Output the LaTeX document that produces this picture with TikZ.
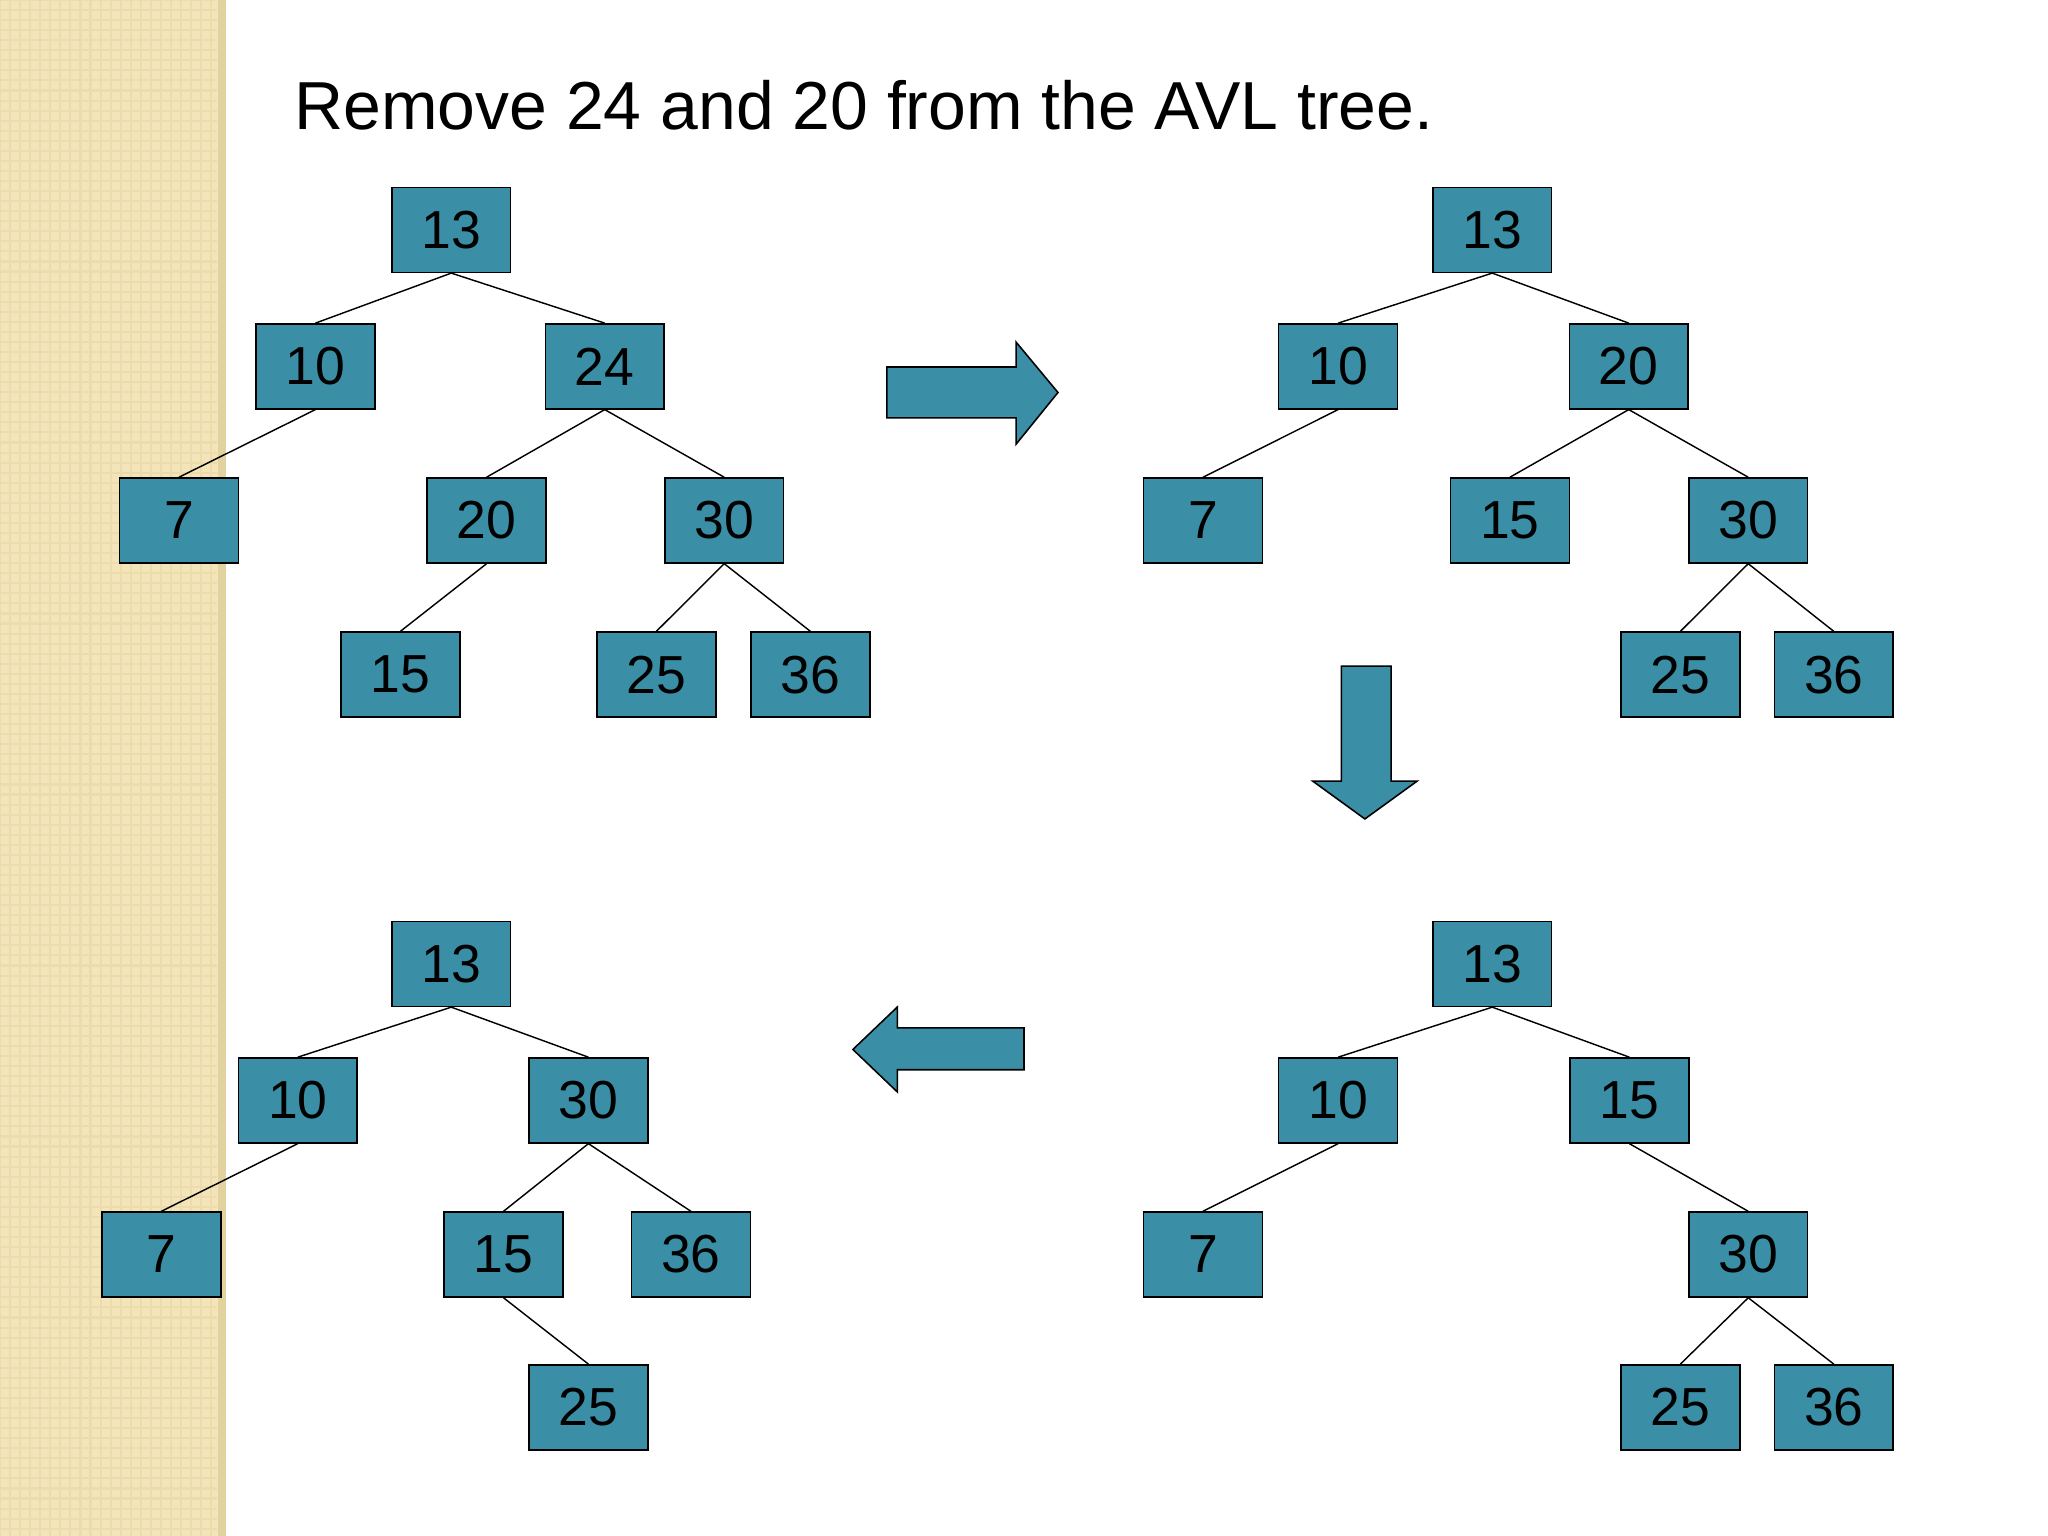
\documentclass[tikz,border=0pt]{standalone}
\usepackage{fontspec}
\setmainfont{Liberation Sans}
\definecolor{boxteal}{RGB}{58,143,166}
\definecolor{stripbase}{RGB}{243,228,186}
\definecolor{stripline}{RGB}{236,220,172}
\definecolor{stripedge}{RGB}{226,210,160}
\tikzset{
  nb/.style={draw=black, line width=0.6pt, fill=boxteal, minimum width=45.5pt, minimum height=32.5pt, inner sep=0pt, font=\fontsize{20.5}{24}\selectfont},
  edge/.style={draw=black, line width=0.55pt},
  bigarrow/.style={draw=black, line width=0.6pt, fill=boxteal, line join=miter}
}
\begin{document}
\begin{tikzpicture}[x=0.5pt,y=-0.5pt]
\useasboundingbox (0,0) rectangle (1568,1176);
\fill[white] (0,0) rectangle (1568,1176);
% left strip
\fill[stripbase] (0,0) rectangle (173,1176);
\begin{scope}
\clip (0,0) rectangle (166,1176);
\draw[stripline, line width=0.8pt, xstep=7.7, ystep=-7.7] (0,0) grid (173,1176);
\end{scope}
\fill[stripedge] (167,0) rectangle (173,1176);
% title
\node[anchor=base west, inner sep=0pt, font=\fontsize{26}{30}\selectfont] (title) at (225,99) {Remove 24 and 20 from the AVL tree.};
% tree 1
\node[nb] (a13) at (345.5,176) {13};
\node[nb] (a10) at (241.5,280.5) {10};
\node[nb] (a24) at (463,280.5) {24};
\node[nb] (a7) at (137,398.5) {7};
\node[nb] (a20) at (372.5,398.5) {20};
\node[nb] (a30) at (554.5,398.5) {30};
\node[nb] (a15) at (306.5,516.5) {15};
\node[nb] (a25) at (502.5,516.5) {25};
\node[nb] (a36) at (620.5,516.5) {36};
\draw[edge] (a13.south) -- (a10.north);
\draw[edge] (a13.south) -- (a24.north);
\draw[edge] (a10.south) -- (a7.north);
\draw[edge] (a24.south) -- (a20.north);
\draw[edge] (a24.south) -- (a30.north);
\draw[edge] (a20.south) -- (a15.north);
\draw[edge] (a30.south) -- (a25.north);
\draw[edge] (a30.south) -- (a36.north);
% tree 2
\node[nb] (b13) at (1142.5,176) {13};
\node[nb] (b10) at (1024.5,280.5) {10};
\node[nb] (b20) at (1247,280.5) {20};
\node[nb] (b7) at (921,398.5) {7};
\node[nb] (b15) at (1156,398.5) {15};
\node[nb] (b30) at (1338.5,398.5) {30};
\node[nb] (b25) at (1286.5,516.5) {25};
\node[nb] (b36) at (1404,516.5) {36};
\draw[edge] (b13.south) -- (b10.north);
\draw[edge] (b13.south) -- (b20.north);
\draw[edge] (b10.south) -- (b7.north);
\draw[edge] (b20.south) -- (b15.north);
\draw[edge] (b20.south) -- (b30.north);
\draw[edge] (b30.south) -- (b25.north);
\draw[edge] (b30.south) -- (b36.north);
% tree 3
\node[nb] (c13) at (1142.5,738) {13};
\node[nb] (c10) at (1024.5,842.5) {10};
\node[nb] (c15) at (1247.5,842.5) {15};
\node[nb] (c7) at (921,960.5) {7};
\node[nb] (c30) at (1338.5,960.5) {30};
\node[nb] (c25) at (1286.5,1077.5) {25};
\node[nb] (c36) at (1404,1077.5) {36};
\draw[edge] (c13.south) -- (c10.north);
\draw[edge] (c13.south) -- (c15.north);
\draw[edge] (c10.south) -- (c7.north);
\draw[edge] (c15.south) -- (c30.north);
\draw[edge] (c30.south) -- (c25.north);
\draw[edge] (c30.south) -- (c36.north);
% tree 4
\node[nb] (d13) at (345.5,738) {13};
\node[nb] (d10) at (228,842.5) {10};
\node[nb] (d30) at (450.5,842.5) {30};
\node[nb] (d7) at (123.5,960.5) {7};
\node[nb] (d15) at (385.5,960.5) {15};
\node[nb] (d36) at (529,960.5) {36};
\node[nb] (d25) at (450.5,1077.5) {25};
\draw[edge] (d13.south) -- (d10.north);
\draw[edge] (d13.south) -- (d30.north);
\draw[edge] (d10.south) -- (d7.north);
\draw[edge] (d30.south) -- (d15.north);
\draw[edge] (d30.south) -- (d36.north);
\draw[edge] (d15.south) -- (d25.north);
% arrows
\draw[bigarrow] (679,281) -- (778,281) -- (778,262) -- (810,300.5) -- (778,340) -- (778,320) -- (679,320) -- cycle;
\draw[bigarrow] (1027,510) -- (1065,510) -- (1065,598) -- (1085,598) -- (1045,627) -- (1005,598) -- (1027,598) -- cycle;
\draw[bigarrow] (784,787) -- (687,787) -- (687,771) -- (653,803.5) -- (687,836) -- (687,819) -- (784,819) -- cycle;
\end{tikzpicture}
\end{document}
